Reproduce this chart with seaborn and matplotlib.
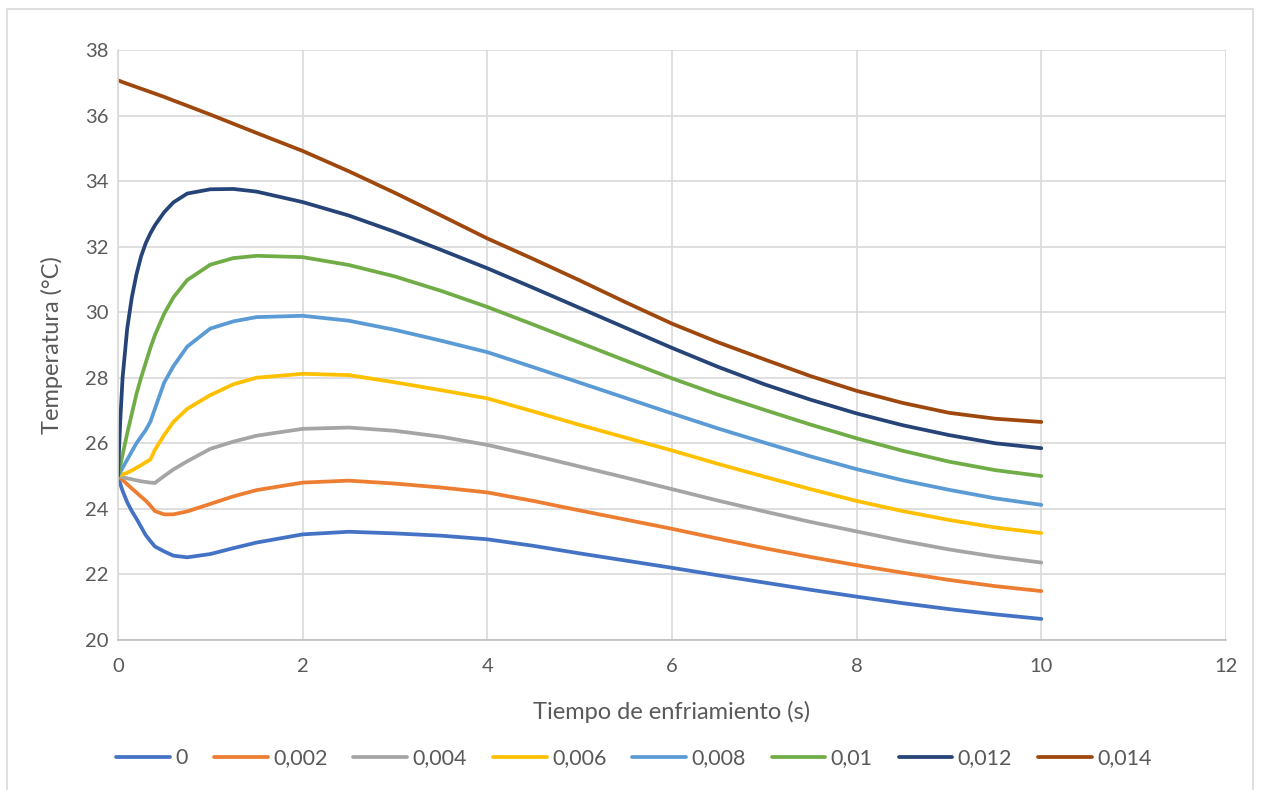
import seaborn as sns
import pandas as pd
import matplotlib.pyplot as plt
from matplotlib.patches import Rectangle

# tiempo de enfriamiento (s)
tiempo = [0, 0.025, 0.05, 0.1, 0.15, 0.2, 0.25, 0.3, 0.35, 0.4, 0.5, 0.6, 0.75, 1, 1.25, 1.5,
          2, 2.5, 3, 3.5, 4, 4.5, 5, 5.5, 6, 6.5, 7, 7.5, 8, 8.5, 9, 9.5, 10]

series = ["0", "0,002", "0,004", "0,006", "0,008", "0,01", "0,012", "0,014"]

t_0 = [25, 24.76, 24.55, 24.2, 23.93, 23.7, 23.45, 23.2, 23.02, 22.85, 22.7, 22.57, 22.52,
       22.62, 22.8, 22.97, 23.22, 23.3, 23.25, 23.18, 23.07, 22.87, 22.64, 22.42, 22.2,
       21.97, 21.75, 21.53, 21.32, 21.12, 20.94, 20.78, 20.64]
t_0002 = [25, 24.94, 24.88, 24.75, 24.62, 24.5, 24.37, 24.25, 24.1, 23.93, 23.83, 23.83, 23.92,
          24.15, 24.38, 24.57, 24.8, 24.86, 24.77, 24.65, 24.5, 24.24, 23.95, 23.67, 23.39,
          23.09, 22.8, 22.53, 22.28, 22.05, 21.83, 21.64, 21.49]
t_0004 = [25, 24.98, 24.96, 24.93, 24.9, 24.87, 24.84, 24.82, 24.8, 24.79, 25.0, 25.2, 25.45,
          25.83, 26.05, 26.23, 26.44, 26.48, 26.38, 26.2, 25.95, 25.63, 25.29, 24.95, 24.6,
          24.25, 23.92, 23.6, 23.31, 23.02, 22.76, 22.54, 22.36]
t_0006 = [25, 25.02, 25.05, 25.1, 25.17, 25.25, 25.33, 25.42, 25.5, 25.8, 26.25, 26.65, 27.05,
          27.47, 27.8, 28.0, 28.12, 28.08, 27.86, 27.62, 27.37, 26.97, 26.56, 26.17, 25.78,
          25.37, 24.98, 24.6, 24.24, 23.93, 23.66, 23.43, 23.26]
t_0008 = [25, 25.12, 25.25, 25.5, 25.75, 26.0, 26.2, 26.4, 26.65, 27.05, 27.85, 28.35, 28.95,
          29.5, 29.72, 29.85, 29.89, 29.74, 29.46, 29.13, 28.78, 28.32, 27.85, 27.38, 26.91,
          26.45, 26.02, 25.6, 25.21, 24.87, 24.58, 24.32, 24.12]
t_001 = [25, 25.32, 25.65, 26.3, 26.9, 27.5, 28.0, 28.45, 28.9, 29.3, 29.95, 30.45, 30.98,
         31.45, 31.65, 31.72, 31.68, 31.44, 31.09, 30.65, 30.16, 29.62, 29.07, 28.52, 27.98,
         27.48, 27.02, 26.57, 26.15, 25.77, 25.44, 25.18, 25.0]
t_0012 = [25, 26.7, 28.0, 29.5, 30.45, 31.15, 31.7, 32.1, 32.4, 32.65, 33.05, 33.35, 33.62,
          33.75, 33.76, 33.68, 33.36, 32.95, 32.45, 31.9, 31.34, 30.74, 30.13, 29.52, 28.91,
          28.33, 27.8, 27.33, 26.91, 26.55, 26.25, 26.0, 25.85]
t_0014 = [37.07, 37.05, 37.02, 36.97, 36.92, 36.87, 36.82, 36.77, 36.72, 36.67, 36.57, 36.46, 36.3,
          36.03, 35.75, 35.47, 34.92, 34.3, 33.64, 32.95, 32.25, 31.62, 30.97, 30.3, 29.65,
          29.08, 28.56, 28.05, 27.6, 27.23, 26.93, 26.75, 26.65]

valores = [t_0, t_0002, t_0004, t_0006, t_0008, t_001, t_0012, t_0014]
colores = ["#4472C4", "#ED7D31", "#A5A5A5", "#FFC000",
           "#5B9BD5", "#70AD47", "#264478", "#9E480E"]

df = pd.concat(
    [pd.DataFrame({"t": tiempo, "T": v, "serie": s}) for s, v in zip(series, valores)],
    ignore_index=True,
)

sns.set_style("white")
plt.rcParams["font.family"] = ["Lato", "DejaVu Sans"]
texto = "#595959"
rejilla = "#D9D9D9"

fig = plt.figure(figsize=(12.63, 7.90), dpi=100)
ax = fig.add_axes([0.0934, 0.19, 0.8773, 0.7467])

sns.lineplot(data=df, x="t", y="T", hue="serie", hue_order=series,
             palette=colores, linewidth=2.7, sort=False, ax=ax, legend=True)
for line in ax.lines:
    line.set_solid_joinstyle("round")
    line.set_solid_capstyle("round")

ax.set_xlim(0, 12)
ax.set_ylim(20, 38)
ax.set_xticks(range(0, 13, 2))
ax.set_yticks(range(20, 39, 2))
ax.grid(True, color=rejilla, linewidth=1.2)
ax.set_axisbelow(True)
for side in ["top", "right"]:
    ax.spines[side].set_visible(False)
ax.spines["left"].set_color(rejilla)
ax.spines["left"].set_linewidth(1.2)
ax.spines["bottom"].set_color("#BFBFBF")
ax.spines["bottom"].set_linewidth(1.2)
ax.tick_params(axis="x", length=0, labelsize=14.5, colors=texto, pad=13)
ax.tick_params(axis="y", length=0, labelsize=14.5, colors=texto, pad=7)
ax.set_xlabel("Tiempo de enfriamiento (s)", fontsize=17, color=texto, labelpad=19)
ax.set_ylabel("Temperatura (°C)", fontsize=17, color=texto, labelpad=16)

handles, labels = ax.get_legend_handles_labels()
ax.get_legend().remove()
fig.legend(handles, labels, loc="center", bbox_to_anchor=(0.502, 0.04), ncol=8,
           frameon=False, fontsize=15.5, handlelength=2.5, handletextpad=0.25,
           columnspacing=1.2, labelcolor=texto)

fig.patches.append(Rectangle((7 / 1263, -0.01), 1246 / 1263, 0.999, transform=fig.transFigure,
                             fill=False, edgecolor=rejilla, linewidth=1.2))

fig.savefig("out.png", dpi=100)
